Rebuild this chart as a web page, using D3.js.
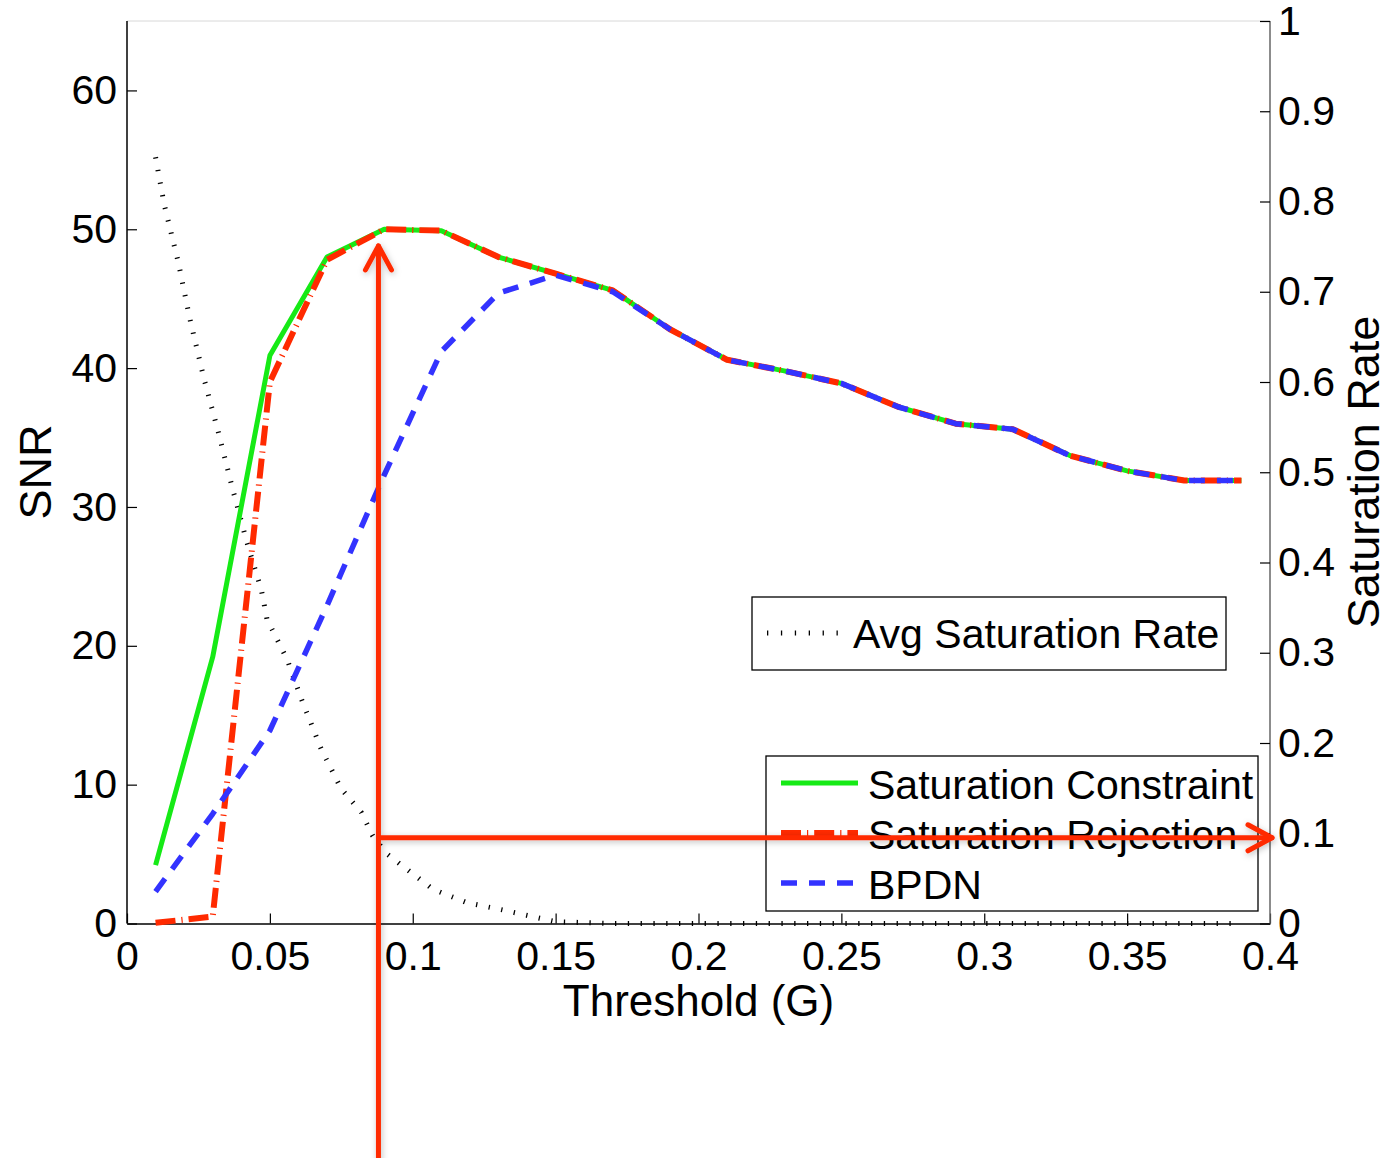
<!DOCTYPE html>
<html>
<head>
<meta charset="utf-8">
<script src="https://cdn.jsdelivr.net/npm/d3@7"></script>
<style>
  body { margin: 0; background: #fff; }
  svg { display: block; font-family: "Liberation Sans", Arial, Helvetica, sans-serif; }
</style>
</head>
<body>
<div id="chart"></div>
<script>
// thresholds where the three SNR curves were sampled
var thresholds = [0.01, 0.03, 0.05, 0.07, 0.09, 0.11, 0.13, 0.15, 0.17, 0.19,
                  0.21, 0.23, 0.25, 0.27, 0.29, 0.31, 0.33, 0.35, 0.37, 0.39];
var snrConstraint = [4.2, 19.2, 40.9, 48.0, 50.0, 49.9, 48.0, 46.8, 45.6, 42.8,
                     40.6, 39.8, 38.9, 37.2, 36.0, 35.6, 33.7, 32.6, 31.9, 31.9];
var snrRejection = [0.05, 0.5, 39.0, 47.8, 50.0, 49.9, 48.0, 46.8, 45.6, 42.8,
                    40.6, 39.8, 38.9, 37.2, 36.0, 35.6, 33.7, 32.6, 31.9, 31.9];
var snrBpdn = [2.3, 7.9, 13.9, 22.9, 32.3, 41.2, 45.4, 46.7, 45.5, 42.8,
               40.6, 39.8, 38.9, 37.2, 36.0, 35.6, 33.7, 32.6, 31.9, 31.9];

// avg saturation rate (right axis)
var rateThreshold = [0.010, 0.013, 0.018, 0.022, 0.027, 0.032, 0.037, 0.042, 0.047, 0.049,
                     0.056, 0.061, 0.068, 0.075, 0.082, 0.086, 0.091, 0.098, 0.107, 0.119,
                     0.130, 0.150, 0.17, 0.21, 0.25, 0.29, 0.33, 0.39];
var rateValues = [0.849, 0.797, 0.732, 0.670, 0.603, 0.544, 0.481, 0.422, 0.370, 0.337,
                  0.293, 0.249, 0.193, 0.149, 0.123, 0.097, 0.077, 0.060, 0.038, 0.023,
                  0.016, 0.002, 0, 0, 0, 0, 0, 0];

var xTicks = [0, 0.05, 0.1, 0.15, 0.2, 0.25, 0.3, 0.35, 0.4];
var snrTicks = [0, 10, 20, 30, 40, 50, 60];
var rateTicks = [0, 0.1, 0.2, 0.3, 0.4, 0.5, 0.6, 0.7, 0.8, 0.9, 1];

// annotation arrows: chosen threshold, matching saturation rate, arrow tip SNR
var markThreshold = 0.088;
var markRate = 0.095;
var markSnr = 48.8;

var W = 1386, H = 1158;
var plotLeft = 127, plotRight = 1270, plotTop = 21, plotBottom = 923.5;

var svg = d3.select("#chart").append("svg").attr("width", W).attr("height", H);

var defs = svg.append("defs");
var shadow = defs.append("filter").attr("id", "shadow")
  .attr("x", "-20%").attr("y", "-20%").attr("width", "140%").attr("height", "140%");
shadow.append("feDropShadow").attr("dx", 1).attr("dy", 2).attr("stdDeviation", 3)
  .attr("flood-color", "#000").attr("flood-opacity", 0.25);

var x = d3.scaleLinear().domain([0, 0.4]).range([plotLeft, plotRight]);
var ySnr = d3.scaleLinear().domain([0, 65]).range([plotBottom, plotTop]);
var yRate = d3.scaleLinear().domain([0, 1]).range([plotBottom, plotTop]);

function fmt(d) { return String(+d.toFixed(2)); }

// top frame line
svg.append("line").attr("x1", plotLeft).attr("x2", plotRight).attr("y1", plotTop).attr("y2", plotTop)
  .attr("stroke", "#d8d8d8").attr("stroke-width", 1);

var fontTick = 41;

var gx = svg.append("g").attr("transform", "translate(0," + plotBottom + ")")
  .call(d3.axisBottom(x).tickValues(xTicks).tickFormat(fmt).tickSizeInner(-10).tickSizeOuter(0).tickPadding(17));
var gl = svg.append("g").attr("transform", "translate(" + plotLeft + ",0)")
  .call(d3.axisLeft(ySnr).tickValues(snrTicks).tickFormat(fmt).tickSizeInner(-10).tickSizeOuter(0).tickPadding(10));
var gr = svg.append("g").attr("transform", "translate(" + plotRight + ",0)")
  .call(d3.axisRight(yRate).tickValues(rateTicks).tickFormat(fmt).tickSizeInner(-10).tickSizeOuter(0).tickPadding(8));
gl.select(".domain").attr("d", "M0," + plotTop + "V" + plotBottom);
gr.select(".domain").attr("d", "M0," + plotTop + "V" + plotBottom);

[gx, gl, gr].forEach(function(g) {
  g.selectAll("text").attr("font-size", fontTick).attr("fill", "#000")
    .attr("font-family", "Liberation Sans, Arial, sans-serif");
  g.selectAll(".tick line").attr("stroke", "#000").attr("stroke-width", 1.2);
  g.select(".domain").attr("stroke", "#000").attr("stroke-width", 1.5);
});
gr.select(".domain").attr("stroke", "#666");

// axis titles
svg.append("text").attr("x", (plotLeft + plotRight) / 2).attr("y", 1016).attr("text-anchor", "middle")
  .attr("font-size", 44).text("Threshold (G)");
svg.append("text").attr("transform", "translate(51,472) rotate(-90)").attr("text-anchor", "middle")
  .attr("font-size", 45).text("SNR");
svg.append("text").attr("transform", "translate(1379,472) rotate(-90)").attr("text-anchor", "middle")
  .attr("font-size", 45).text("Saturation Rate");

// curves
var rateLine = d3.line().x(function(d) { return x(d[0]); }).y(function(d) { return yRate(d[1]); });
var snrLine = d3.line().x(function(d) { return x(d[0]); }).y(function(d) { return ySnr(d[1]); });

var series = [
  {name: "Saturation Constraint", values: snrConstraint, color: "#16ea16", width: 5, dash: null},
  {name: "Saturation Rejection", values: snrRejection, color: "#ff2a00", width: 6, dash: "20,6,1.2,6"},
  {name: "BPDN", values: snrBpdn, color: "#3333ff", width: 5.5, dash: "16,12"}
];

svg.append("path")
  .attr("d", rateLine(d3.zip(rateThreshold, rateValues)))
  .attr("fill", "none").attr("stroke", "#000").attr("stroke-width", 5)
  .attr("stroke-dasharray", "1.3,11.5");

series.forEach(function(s) {
  svg.append("path")
    .attr("d", snrLine(d3.zip(thresholds, s.values)))
    .attr("fill", "none").attr("stroke", s.color).attr("stroke-width", s.width)
    .attr("stroke-dasharray", s.dash).attr("stroke-linejoin", "round");
});

// legend 1 (right axis series)
var lg1 = svg.append("g");
lg1.append("rect").attr("x", 752).attr("y", 597).attr("width", 474).attr("height", 73)
  .attr("fill", "#fff").attr("stroke", "#000").attr("stroke-width", 1.3);
lg1.append("line").attr("x1", 767).attr("x2", 840).attr("y1", 633).attr("y2", 633)
  .attr("stroke", "#000").attr("stroke-width", 5).attr("stroke-dasharray", "1.3,12.6");
lg1.append("text").attr("x", 853).attr("y", 648).attr("font-size", 41).text("Avg Saturation Rate");

// legend 2 (left axis series)
var lg2 = svg.append("g");
lg2.append("rect").attr("x", 766).attr("y", 756).attr("width", 492).attr("height", 155)
  .attr("fill", "#fff").attr("stroke", "#000").attr("stroke-width", 1.3);
series.forEach(function(s, i) {
  var yy = 783 + i * 50;
  lg2.append("line").attr("x1", 781).attr("x2", 858).attr("y1", yy).attr("y2", yy)
    .attr("stroke", s.color).attr("stroke-width", s.width).attr("stroke-dasharray", s.dash);
  lg2.append("text").attr("x", 868).attr("y", yy + 16).attr("font-size", 41).text(s.name);
});

// annotation arrows
var ax = x(markThreshold), ay = yRate(markRate), tipY = ySnr(markSnr);
var arrows = svg.append("g").attr("filter", "url(#shadow)")
  .attr("fill", "none").attr("stroke", "#ff2a00").attr("stroke-width", 5)
  .attr("stroke-linecap", "round").attr("stroke-linejoin", "round");
arrows.append("path").attr("d", "M" + ax + "," + (H + 10) + "V" + tipY);
arrows.append("path").attr("d", "M" + (ax - 13) + "," + (tipY + 24) + "L" + ax + "," + tipY + "L" + (ax + 13) + "," + (tipY + 24));
arrows.append("path").attr("d", "M" + ax + "," + ay + "H" + (plotRight + 2));
arrows.append("path").attr("d", "M" + (plotRight - 22) + "," + (ay - 13) + "L" + (plotRight + 2) + "," + ay + "L" + (plotRight - 22) + "," + (ay + 13));
</script>
</body>
</html>
